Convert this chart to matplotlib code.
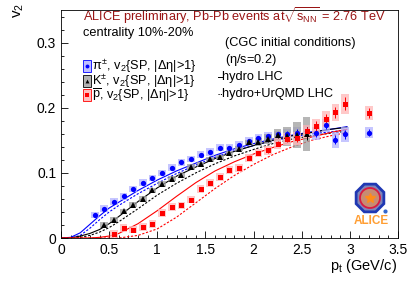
import matplotlib
matplotlib.use("Agg")
import matplotlib.pyplot as plt
from matplotlib.patches import Rectangle, RegularPolygon, Circle
from matplotlib.lines import Line2D
from matplotlib.ticker import MultipleLocator

plt.rcParams['font.family'] = ['Liberation Sans', 'DejaVu Sans']
plt.rcParams['mathtext.fontset'] = 'custom'
plt.rcParams['mathtext.rm'] = 'Liberation Sans'
plt.rcParams['mathtext.it'] = 'Liberation Sans'

# ALICE data
pi_pt = [0.35, 0.45, 0.55, 0.65, 0.75, 0.85, 0.95, 1.05, 1.15, 1.25, 1.35, 1.45, 1.55, 1.65,
         1.75, 1.85, 1.95, 2.05, 2.15, 2.25, 2.35, 2.45, 2.55, 2.65, 2.75, 2.85, 2.95, 3.2]
pi_v2 = [0.035, 0.045, 0.056, 0.064, 0.075, 0.085, 0.092, 0.0995, 0.108, 0.116, 0.121, 0.128, 0.132, 0.139,
         0.139, 0.143, 0.149, 0.154, 0.157, 0.159, 0.160, 0.162, 0.165, 0.161, 0.173, 0.151, 0.159, 0.162]
pi_stat = [0.001] * 20 + [0.004, 0.005, 0.005, 0.006, 0.006, 0.007, 0.007, 0.006]
pi_sys = [0.005] * 12 + [0.006] * 8 + [0.008, 0.008, 0.009, 0.010, 0.010, 0.012, 0.012, 0.009]

k_pt = [0.45, 0.55, 0.65, 0.75, 0.85, 0.95, 1.05, 1.15, 1.25, 1.35, 1.45, 1.55, 1.65,
        1.75, 1.85, 1.95, 2.05, 2.15, 2.25, 2.35, 2.45, 2.55]
k_v2 = [0.020, 0.028, 0.041, 0.051, 0.060, 0.073, 0.083, 0.091, 0.096, 0.109, 0.113, 0.121, 0.124,
        0.130, 0.137, 0.147, 0.148, 0.152, 0.158, 0.156, 0.158, 0.160]
k_stat = [0.001] * 16 + [0.003, 0.004, 0.005, 0.006, 0.008, 0.010]
k_sys = [0.004] * 16 + [0.006, 0.007, 0.010, 0.014, 0.020, 0.026]

p_pt = [0.55, 0.65, 0.75, 0.85, 0.95, 1.05, 1.15, 1.25, 1.35, 1.45, 1.55, 1.65, 1.75, 1.85,
        1.95, 2.05, 2.15, 2.25, 2.35, 2.45, 2.55, 2.65, 2.75, 2.85, 2.95, 3.2]
p_v2 = [0.006, 0.015, 0.013, 0.017, 0.0215, 0.038, 0.047, 0.050, 0.059, 0.075, 0.085, 0.094, 0.105, 0.108,
        0.123, 0.131, 0.135, 0.145, 0.152, 0.153, 0.164, 0.172, 0.183, 0.193, 0.206, 0.192]
p_stat = [0.002] * 14 + [0.003, 0.003, 0.004, 0.004, 0.005, 0.006, 0.006, 0.007, 0.008, 0.008, 0.010, 0.007]
p_sys = [0.006] * 14 + [0.006, 0.006, 0.007, 0.008, 0.009, 0.010, 0.010, 0.011, 0.012, 0.013, 0.015, 0.010]

# hydro (solid) and hydro+UrQMD (dashed) curves
m_pt = [0.0, 0.1, 0.2, 0.3, 0.4, 0.5, 0.6, 0.8, 1.0, 1.2, 1.4, 1.6, 1.8, 2.0, 2.2, 2.4, 2.6, 2.8, 2.97]
pi_hydro = [0.0, 0.001, 0.008, 0.021, 0.034, 0.046, 0.055, 0.073, 0.089, 0.103, 0.115, 0.127, 0.137,
            0.145, 0.152, 0.158, 0.163, 0.167, 0.171]
pi_urqmd = [0.0, 0.0, 0.004, 0.015, 0.028, 0.040, 0.050, 0.068, 0.084, 0.099, 0.112, 0.124, 0.134,
            0.142, 0.149, 0.155, 0.160, 0.163, 0.166]
k_hydro = [0.0, 0.0, 0.003, 0.007, 0.013, 0.022, 0.033, 0.056, 0.077, 0.095, 0.109, 0.122, 0.133,
           0.142, 0.150, 0.157, 0.162, 0.167, 0.170]
k_urqmd = [0.0, 0.0, 0.001, 0.004, 0.009, 0.016, 0.025, 0.045, 0.066, 0.084, 0.100, 0.114, 0.126,
           0.136, 0.145, 0.152, 0.157, 0.161, 0.164]
p_hydro = [0.0, 0.0, 0.0, 0.0, 0.001, 0.003, 0.007, 0.022, 0.042, 0.064, 0.085, 0.103, 0.117,
           0.129, 0.139, 0.148, 0.155, 0.162, 0.167]
p_urqmd = [0.0, 0.0, 0.0, 0.0, 0.0, 0.0, 0.0, 0.004, 0.014, 0.032, 0.054, 0.076, 0.096,
           0.113, 0.128, 0.140, 0.150, 0.157, 0.162]

BLUE = (0, 0, 1)
RED = (1, 0, 0)
DRED = (0.6, 0.08, 0.08)
FS = 9.2

fig = plt.figure(figsize=(4.15, 2.81), dpi=100)
ax = fig.add_axes([0.147, 0.153, 0.812, 0.811])
ax.set_xlim(0, 3.5)
ax.set_ylim(0, 0.35)

# model curves
ax.plot(m_pt, pi_hydro, '-', color=BLUE, lw=0.8)
ax.plot(m_pt, pi_urqmd, '--', color=BLUE, lw=0.8, dashes=(2, 1.5))
ax.plot(m_pt, k_hydro, '-', color='k', lw=0.8)
ax.plot(m_pt, k_urqmd, '--', color='k', lw=0.8, dashes=(2, 1.5))
ax.plot(m_pt, p_hydro, '-', color=RED, lw=0.8)
ax.plot(m_pt, p_urqmd, '--', color=RED, lw=0.8, dashes=(2, 1.5))

series = [
    (pi_pt, pi_v2, pi_stat, pi_sys, BLUE, (0.7, 0.7, 1.0), 'o', 3.8),
    (k_pt, k_v2, k_stat, k_sys, 'k', (0.62, 0.62, 0.62), '^', 3.8),
    (p_pt, p_v2, p_stat, p_sys, RED, (1.0, 0.72, 0.72), 's', 3.6),
]
for pt, v2, st, sy, col, boxcol, mk, ms in series:
    for x, y, s in zip(pt, v2, sy):
        ax.add_patch(Rectangle((x - 0.04, y - s), 0.08, 2 * s, facecolor=boxcol,
                               edgecolor='none', alpha=0.75, zorder=2))
for pt, v2, st, sy, col, boxcol, mk, ms in series:
    ax.errorbar(pt, v2, yerr=st, fmt=mk, color=col, ms=ms, mew=0, elinewidth=0.7,
                capsize=1.2, capthick=0.7, zorder=4)

# axes styling (ROOT-like)
ax.xaxis.set_minor_locator(MultipleLocator(0.1))
ax.yaxis.set_minor_locator(MultipleLocator(0.02))
ax.tick_params(which='both', direction='in', labelsize=10)
ax.tick_params(which='major', length=5, width=0.6)
ax.tick_params(which='minor', length=2.5, width=0.6)
ax.set_xticks([0, 0.5, 1, 1.5, 2, 2.5, 3, 3.5])
ax.set_xticklabels(['0', '0.5', '1', '1.5', '2', '2.5', '3', '3.5'])
ax.set_yticks([0, 0.1, 0.2, 0.3])
ax.set_yticklabels(['0', '0.1', '0.2', '0.3'])
for sp in ax.spines.values():
    sp.set_linewidth(0.6)

fig.text(0.045, 0.99, r'v$_2$', rotation=90, ha='center', va='top', fontsize=11)
fig.text(0.957, 0.02, r'p$_{\rm t}$ (GeV/c)', ha='right', va='bottom', fontsize=10.5)

# header texts
ax.text(0.064, 0.975, r'ALICE preliminary, Pb-Pb events at$\sqrt{\rm s_{NN}}$ = 2.76 TeV',
        transform=ax.transAxes, color=DRED, fontsize=FS, va='center')
ax.text(0.064, 0.9, 'centrality 10%-20%', transform=ax.transAxes, fontsize=FS, va='center')

# data legend
leg = [('o', BLUE, (0.75, 0.75, 1.0), r'$\pi^{\pm}$, v$_2${SP, |$\Delta\eta$|>1}'),
       ('^', 'k', (0.7, 0.7, 0.7), r'K$^{\pm}$, v$_2${SP, |$\Delta\eta$|>1}'),
       ('s', RED, (1.0, 0.75, 0.75), r'$\overline{\rm p}$, v$_2${SP, |$\Delta\eta$|>1}')]
for i, (mk, col, fc, lab) in enumerate(leg):
    yy = 0.754 - i * 0.064
    ax.add_patch(Rectangle((0.064, yy - 0.026), 0.024, 0.052, transform=ax.transAxes,
                           facecolor=fc, edgecolor=col, lw=0.6, zorder=5))
    ax.plot([0.076], [yy], mk, color=col, ms=2.8, mew=0, transform=ax.transAxes, zorder=6)
    ax.text(0.093, yy, lab, transform=ax.transAxes, fontsize=FS, va='center')

# model legend
ax.text(0.488, 0.855, '(CGC initial conditions)', transform=ax.transAxes, fontsize=FS, va='center')
ax.text(0.488, 0.78, r'($\eta$/s=0.2)', transform=ax.transAxes, fontsize=FS, va='center')
ax.add_line(Line2D([0.467, 0.477], [0.706, 0.706], transform=ax.transAxes, color='k', lw=0.7))
ax.text(0.479, 0.706, 'hydro LHC', transform=ax.transAxes, fontsize=FS, va='center')
ax.add_line(Line2D([0.466, 0.477], [0.632, 0.632], transform=ax.transAxes, color='k', lw=0.7,
                   ls=(0, (1.2, 1.2))))
ax.text(0.479, 0.632, 'hydro+UrQMD LHC', transform=ax.transAxes, fontsize=FS, va='center')

# ALICE logo (simplified), own axes in pixel units
lax = fig.add_axes([350 / 415, 1 - 228 / 281, 42 / 415, 46 / 281])
lax.set_xlim(0, 42)
lax.set_ylim(0, 46)
lax.axis('off')
lax.add_patch(RegularPolygon((20, 30), 8, radius=15, orientation=0.3927,
                             facecolor=(0.5, 0.52, 0.72), edgecolor=(0.12, 0.22, 0.7), lw=2.0))
lax.add_patch(Circle((20, 30), 10, facecolor=(0.78, 0.55, 0.45),
                     edgecolor=(0.85, 0.1, 0.25), lw=1.3))
lax.plot([20], [30], '*', color=(1.0, 0.55, 0.1), ms=7)
lax.plot([35], [17], 'o', color=(0.2, 0.4, 0.8), ms=2)
lax.text(21, 1, 'ALICE', color=(1.0, 0.62, 0.2), fontsize=8.5, fontweight='bold',
         ha='center', va='bottom')

fig.savefig('out.png', dpi=100)
